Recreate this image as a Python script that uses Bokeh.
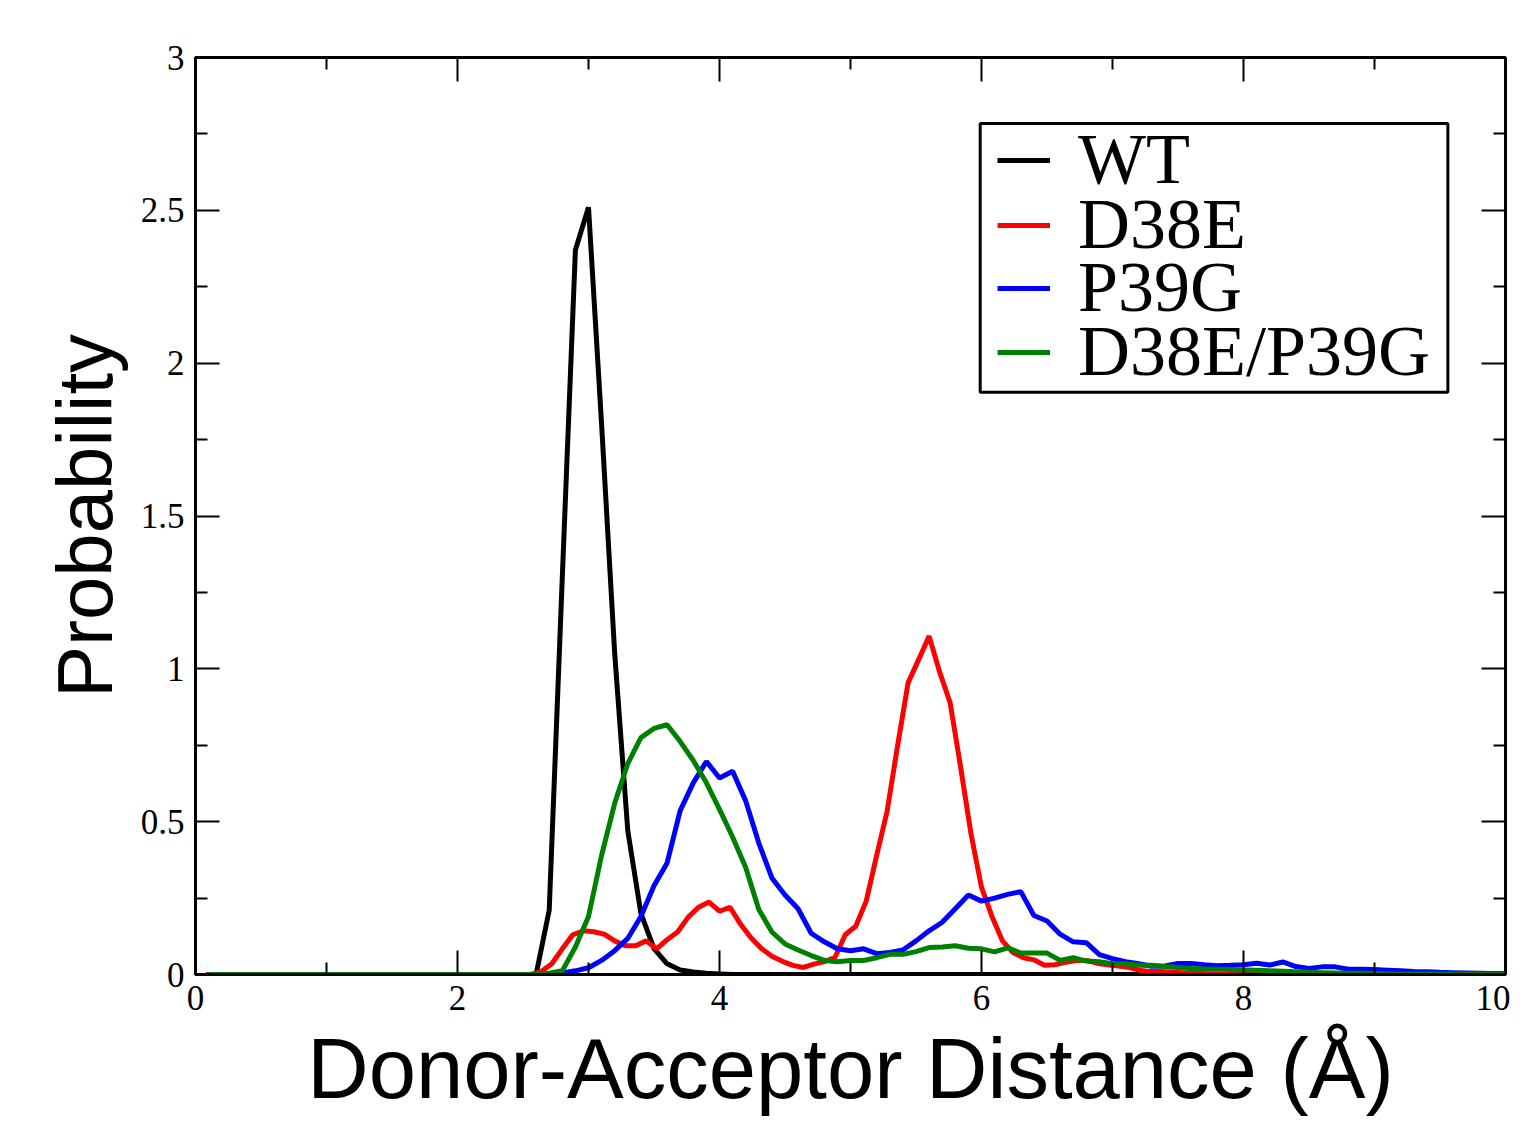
from bokeh.plotting import figure
from bokeh.models import (Range1d, FixedTicker, LinearAxis, Legend, LegendItem,
                          BoxAnnotation, CustomLabelingPolicy)
from bokeh.embed import file_html
from bokeh.resources import INLINE

# ---------------- data ----------------
# distance bins (Angstrom)
dist_01 = [round(0.1 * i, 2) for i in range(1, 101)]     # 0.1 ... 10.0
dist_008 = [round(0.08 * i, 2) for i in range(1, 126)]   # 0.08 ... 10.0

wt = [0, 0, 0, 0, 0, 0, 0, 0, 0, 0,
      0, 0, 0, 0, 0, 0, 0, 0, 0, 0,
      0, 0, 0, 0, 0, 0, 0.21, 1.30, 2.37, 2.51,
      1.80, 1.05, 0.47, 0.20, 0.085, 0.035, 0.015, 0.008, 0.004, 0.002,
      0, 0, 0, 0, 0, 0, 0, 0, 0, 0,
      0, 0, 0, 0, 0, 0, 0, 0, 0, 0,
      0, 0, 0, 0, 0, 0, 0, 0, 0, 0,
      0, 0, 0, 0, 0, 0, 0, 0, 0, 0,
      0, 0, 0, 0, 0, 0, 0, 0, 0, 0,
      0, 0, 0, 0, 0, 0, 0, 0, 0, 0]

d38e = [0, 0, 0, 0, 0, 0, 0, 0, 0, 0,
        0, 0, 0, 0, 0, 0, 0, 0, 0, 0,
        0, 0, 0, 0, 0, 0, 0, 0, 0, 0,
        0, 0, 0.01, 0.035, 0.084, 0.13, 0.143, 0.14, 0.132, 0.11,
        0.094, 0.094, 0.11, 0.084, 0.114, 0.139, 0.187, 0.22, 0.237, 0.207,
        0.22, 0.165, 0.12, 0.085, 0.06, 0.043, 0.03, 0.023, 0.034, 0.042,
        0.055, 0.13, 0.158, 0.24, 0.39, 0.535, 0.75, 0.955, 1.03, 1.107,
        0.99, 0.89, 0.68, 0.46, 0.285, 0.19, 0.11, 0.072, 0.055, 0.048,
        0.03, 0.032, 0.04, 0.046, 0.046, 0.037, 0.032, 0.028, 0.024, 0.014,
        0.01, 0.01, 0.008, 0.006, 0.004, 0.003, 0.002, 0, 0, 0,
        0, 0, 0, 0, 0, 0, 0, 0, 0, 0,
        0, 0, 0, 0, 0, 0, 0, 0, 0, 0,
        0, 0, 0, 0, 0]

p39g = [0, 0, 0, 0, 0, 0, 0, 0, 0, 0,
        0, 0, 0, 0, 0, 0, 0, 0, 0, 0,
        0, 0, 0, 0, 0, 0, 0, 0.005, 0.012, 0.022,
        0.046, 0.078, 0.118, 0.19, 0.29, 0.365, 0.536, 0.627, 0.697, 0.643,
        0.665, 0.568, 0.43, 0.316, 0.26, 0.215, 0.135, 0.107, 0.084, 0.078,
        0.084, 0.068, 0.072, 0.08, 0.11, 0.143, 0.171, 0.215, 0.26, 0.24,
        0.25, 0.262, 0.271, 0.193, 0.175, 0.132, 0.107, 0.104, 0.065, 0.052,
        0.042, 0.035, 0.027, 0.028, 0.036, 0.036, 0.032, 0.029, 0.03, 0.032,
        0.037, 0.031, 0.041, 0.026, 0.02, 0.025, 0.025, 0.017, 0.017, 0.016,
        0.014, 0.012, 0.01, 0.009, 0.007, 0.006, 0.005, 0.004, 0.003, 0.003]

d38e_p39g = [0, 0, 0, 0, 0, 0, 0, 0, 0, 0,
             0, 0, 0, 0, 0, 0, 0, 0, 0, 0,
             0, 0, 0, 0, 0, 0, 0.004, 0.012, 0.09, 0.19,
             0.39, 0.56, 0.69, 0.775, 0.805, 0.817, 0.762, 0.70, 0.627, 0.54,
             0.45, 0.35, 0.213, 0.139, 0.10, 0.08, 0.062, 0.046, 0.042, 0.046,
             0.046, 0.055, 0.066, 0.066, 0.075, 0.088, 0.09, 0.094, 0.086, 0.084,
             0.074, 0.087, 0.07, 0.07, 0.07, 0.046, 0.055, 0.044, 0.042, 0.035,
             0.035, 0.03, 0.03, 0.026, 0.023, 0.02, 0.018, 0.017, 0.016, 0.015,
             0.014, 0.012, 0.011, 0.009, 0.007, 0.006, 0.005, 0.004, 0.004, 0.003,
             0.002, 0.002, 0.002, 0.002, 0.002, 0.002, 0.002, 0.002, 0.002, 0.002]

series_names = ["WT", "D38E", "P39G", "D38E/P39G"]
series_colors = ["#000000", "#ff0000", "#0000ff", "#008000"]

x_ticks = [0, 2, 4, 6, 8, 10]
x_minor = [1, 3, 5, 7, 9]
y_ticks = [0, 0.5, 1, 1.5, 2, 2.5, 3]
y_tick_labels = ["0", "0.5", "1", "1.5", "2", "2.5", "3"]
y_minor = [0.25, 0.75, 1.25, 1.75, 2.25, 2.75]

# ---------------- figure ----------------
p = figure(width=1510, height=1129,
           x_range=Range1d(0, 10), y_range=Range1d(0, 3),
           output_backend="svg", toolbar_location=None,
           min_border_left=195, min_border_right=5,
           min_border_top=57, min_border_bottom=155)

p.xgrid.visible = False
p.ygrid.visible = False
p.outline_line_color = "black"
p.outline_line_width = 3
p.outline_line_alpha = 1
p.background_fill_color = "white"
p.border_fill_color = "white"

serif = "Liberation Serif"
sans = "Liberation Sans"

hide_all = CustomLabelingPolicy(code="""
const all = []
for (const i of indices) all.push(i)
for (const i of all) indices.unset(i)
return indices
""")


def style_axis(ax, ticks, minor, show_labels):
    ax.ticker = FixedTicker(ticks=ticks, minor_ticks=minor)
    ax.major_tick_in = 24
    ax.major_tick_out = 0
    ax.minor_tick_in = 12
    ax.minor_tick_out = 0
    ax.major_tick_line_width = 2
    ax.minor_tick_line_width = 2
    ax.major_tick_line_color = "black"
    ax.minor_tick_line_color = "black"
    ax.major_label_text_font = serif
    ax.major_label_text_color = "black"
    if show_labels:
        ax.major_label_text_font_size = "35px"
        ax.major_label_standoff = 11
        ax.axis_line_width = 3
        ax.axis_line_color = "black"
    else:
        ax.major_label_text_font_size = "1px"
        ax.major_label_standoff = 0
        ax.major_label_policy = hide_all
        ax.axis_line_color = None


xax = p.xaxis[0]
yax = p.yaxis[0]
style_axis(xax, x_ticks, x_minor, True)
style_axis(yax, y_ticks, y_minor, True)
yax.major_label_overrides = {t: l for t, l in zip(y_ticks, y_tick_labels)}

xax.axis_label = "Donor-Acceptor Distance (Å)"
xax.axis_label_text_font = sans
xax.axis_label_text_font_size = "85px"
xax.axis_label_text_font_style = "normal"
xax.axis_label_text_color = "black"
xax.axis_label_standoff = 8

yax.axis_label = "Probability"
yax.axis_label_text_font = sans
yax.axis_label_text_font_size = "78px"
yax.axis_label_text_font_style = "normal"
yax.axis_label_text_color = "black"
yax.axis_label_standoff = 9

top_ax = LinearAxis()
style_axis(top_ax, x_ticks, x_minor, False)
p.add_layout(top_ax, "above")
right_ax = LinearAxis()
style_axis(right_ax, y_ticks, y_minor, False)
p.add_layout(right_ax, "right")

renderers = []
for xs, ys, c in zip([dist_01, dist_008, dist_01, dist_01],
                     [wt, d38e, p39g, d38e_p39g], series_colors):
    r = p.line(xs, ys, line_color=c, line_width=5)
    renderers.append(r)

# legend frame
legend_box = BoxAnnotation(left=5.99, right=9.56, top=2.784, bottom=1.905,
                           fill_color="white", fill_alpha=1,
                           line_color="black", line_width=3, line_alpha=1)
p.add_layout(legend_box)

# one legend row per series (tight row spacing as in the reference)
row_offsets = [773, 708, 645, 581]
for n, r, yoff in zip(series_names, renderers, row_offsets):
    lg = Legend(items=[LegendItem(label=n, renderers=[r])],
                location=(802, yoff), margin=0, padding=0, spacing=0,
                glyph_width=53, glyph_height=20, label_standoff=28,
                label_text_font=serif, label_text_font_size="72px",
                label_text_color="black",
                border_line_color=None, background_fill_alpha=0)
    p.add_layout(lg)

open("out.html", "w").write(file_html(p, INLINE))
